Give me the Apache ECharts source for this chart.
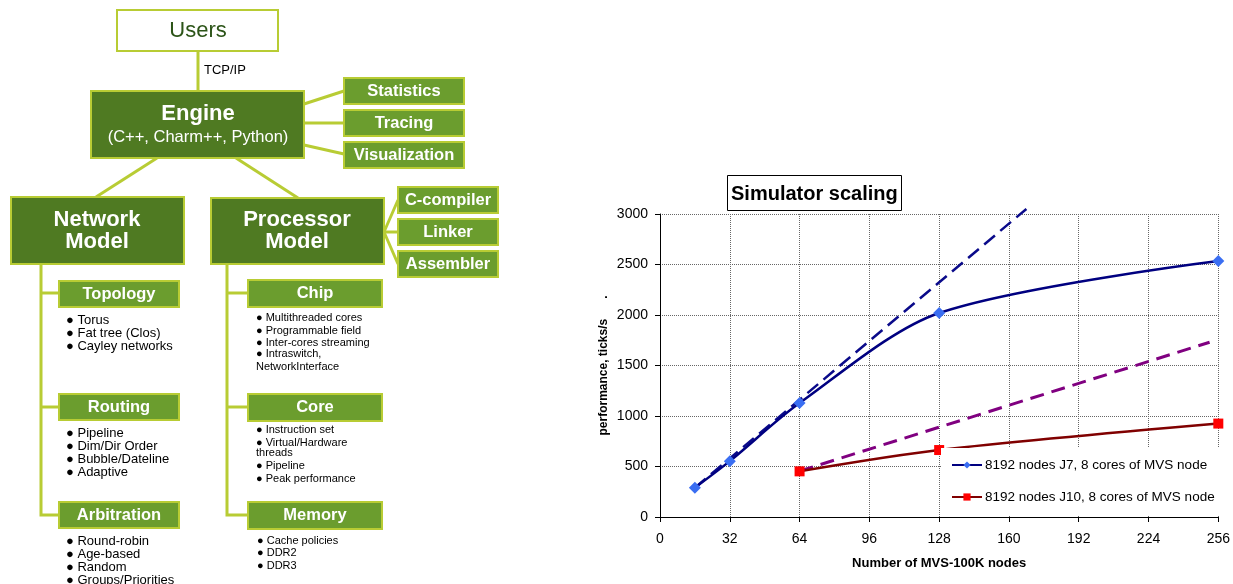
<!DOCTYPE html>
<html><head><meta charset="utf-8">
<script src="https://cdn.jsdelivr.net/npm/echarts@6/dist/echarts.min.js"></script>
<style>html,body{margin:0;padding:0;background:#fff}#c{width:1233px;height:584px}</style>
</head><body><div id="c"></div>
<script>
// ---------- chart data ----------
const chartTitle = 'Simulator scaling';
const xAxisName = 'Number of MVS-100K nodes';
const yAxisName = 'performance, ticks/s      .';
const j7Name = '8192 nodes J7, 8 cores of MVS node';
const j10Name = '8192 nodes J10, 8 cores of MVS node';
const j7Nodes = [16, 32, 64, 128, 256];
const j7Perf = [290, 553, 1128, 2020, 2535];
const j7IdealNodes = [16, 168];
const j7IdealPerf = [290, 3050];
const j10Nodes = [64, 128, 256];
const j10Perf = [452, 663, 925];
const j10IdealNodes = [64, 252];
const j10IdealPerf = [455, 1730];

// ---------- diagram texts ----------
const usersLabel = 'Users';
const linkLabel = 'TCP/IP';
const engineLines = ['Engine', '(C++, Charm++, Python)'];
const engineTools = ['Statistics', 'Tracing', 'Visualization'];
const networkLines = ['Network', 'Model'];
const processorLines = ['Processor', 'Model'];
const processorTools = ['C-compiler', 'Linker', 'Assembler'];
const networkParts = ['Topology', 'Routing', 'Arbitration'];
const processorParts = ['Chip', 'Core', 'Memory'];
const topologyItems = ['● Torus', '● Fat tree (Clos)', '● Cayley networks'];
const routingItems = ['● Pipeline', '● Dim/Dir Order', '● Bubble/Dateline', '● Adaptive'];
const arbitrationItems = ['● Round-robin', '● Age-based', '● Random', '● Groups/Priorities'];
const chipItems = ['● Multithreaded cores', '● Programmable field', '● Inter-cores streaming', '● Intraswitch,', 'NetworkInterface'];
const coreItems = ['● Instruction set', '● Virtual/Hardware', 'threads', '● Pipeline', '● Peak performance'];
const memoryItems = ['● Cache policies', '● DDR2', '● DDR3'];

const zip = (a, b) => a.map((v, i) => [v, b[i]]);

// ---------- diagram drawing ----------
const FF = 'Arial, "Liberation Sans", sans-serif';
const LINE = '#b8cc34';
const DARK = '#4f7a22';
const LIGHT = '#6b9d2e';
const G = [];
function rect(x, y, w, h, fill) {
  G.push({type: 'rect', z: 10, shape: {x, y, width: w, height: h},
    style: {fill, stroke: LINE, lineWidth: 2}});
}
function txt(x, y, s, font, fill, align) {
  const a = align || 'center';
  G.push({type: 'text', z: 11, x, y,
    style: {text: s, font, fill: fill || '#000', align: a, verticalAlign: 'middle',
      textAlign: a, textVerticalAlign: 'middle'}});
}
function seg(points) {
  G.push({type: 'polyline', z: 9, shape: {points},
    style: {stroke: LINE, lineWidth: 3, fill: null}});
}
// connectors
seg([[198, 52], [198, 91]]);
seg([[304, 104], [344, 91]]);
seg([[304, 123], [344, 123]]);
seg([[304, 145], [344, 154]]);
seg([[157, 158], [96, 197]]);
seg([[236, 158], [298, 198]]);
seg([[384, 232], [398, 200]]);
seg([[384, 232], [398, 232]]);
seg([[384, 232], [398, 264]]);
seg([[41, 264], [41, 515], [59, 515]]);
seg([[41, 293], [58, 293]]);
seg([[41, 407], [59, 407]]);
seg([[227, 264], [227, 515], [249, 515]]);
seg([[227, 293], [248, 293]]);
seg([[227, 407], [248, 407]]);

// boxes
rect(117, 10, 161, 41, '#fff');
txt(198, 31, usersLabel, '22px ' + FF, '#2c5418');
txt(204, 70, linkLabel, '13px ' + FF, '#000', 'left');
rect(91, 91, 213, 67, DARK);
txt(198, 114, engineLines[0], 'bold 22px ' + FF, '#fff');
txt(198, 137, engineLines[1], '16.5px ' + FF, '#fff');
const toolY = [78, 110, 142];
engineTools.forEach((t, i) => { rect(344, toolY[i], 120, 26, LIGHT); txt(404, toolY[i] + 13, t, 'bold 16.5px ' + FF, '#fff'); });
rect(11, 197, 173, 67, DARK);
txt(97, 219.5, networkLines[0], 'bold 22px ' + FF, '#fff');
txt(97, 241.5, networkLines[1], 'bold 22px ' + FF, '#fff');
rect(211, 198, 173, 66, DARK);
txt(297, 220, processorLines[0], 'bold 22px ' + FF, '#fff');
txt(297, 241.5, processorLines[1], 'bold 22px ' + FF, '#fff');
const ptY = [187, 219, 251];
processorTools.forEach((t, i) => { rect(398, ptY[i], 100, 26, LIGHT); txt(448, ptY[i] + 13, t, 'bold 16.5px ' + FF, '#fff'); });
const npY = [281, 394, 502];
networkParts.forEach((t, i) => { rect(59, npY[i], 120, 26, LIGHT); txt(119, npY[i] + 13, t, 'bold 16.5px ' + FF, '#fff'); });
const ppY = [280, 394, 502];
processorParts.forEach((t, i) => { rect(248, ppY[i], 134, 27, LIGHT); txt(315, ppY[i] + 13.5, t, 'bold 16.5px ' + FF, '#fff'); });

function list(items, x, ys, size) {
  items.forEach((s, i) => txt(x, ys[i], s, size + 'px ' + FF, '#000', 'left'));
}
list(topologyItems, 66, [320, 333, 346], 13);
list(routingItems, 66, [433, 446.5, 459.5, 472.5], 13);
list(arbitrationItems, 66, [541, 554, 567, 580], 13);
list(chipItems, 256, [318, 331, 342.5, 354, 367], 11);
list(coreItems, 256, [430, 442.5, 453, 466, 479], 11);
list(memoryItems, 257, [541, 553, 566], 11);

// ---------- chart ----------
const plain = v => String(v);
const chart = echarts.init(document.getElementById('c'), null, {renderer: 'canvas'});
chart.setOption({
  animation: false,
  backgroundColor: '#fff',
  textStyle: {fontFamily: FF},
  title: {
    text: chartTitle, left: 727, top: 175,
    padding: [9, 4, 7, 4], borderWidth: 1, borderColor: '#000', backgroundColor: '#fff',
    textStyle: {fontSize: 20, fontWeight: 'bold', color: '#000', fontFamily: FF}
  },
  grid: {left: 660, right: 12, top: 214, bottom: 67},
  legend: {
    orient: 'vertical', left: 941, top: 448,
    padding: [10, 8, 12, 10], itemGap: 18, itemWidth: 30, itemHeight: 9,
    backgroundColor: '#fff', z: 5,
    data: [j7Name, j10Name],
    textStyle: {fontSize: 13.5, color: '#000', fontFamily: FF, padding: [0, 0, 0, -2]}
  },
  xAxis: {
    type: 'value', min: 0, max: 256, interval: 32,
    name: xAxisName, nameLocation: 'middle', nameGap: 40,
    nameTextStyle: {fontSize: 13, fontWeight: 'bold', color: '#000', fontFamily: FF},
    axisLine: {lineStyle: {color: '#000', width: 1}},
    axisTick: {show: true, length: 5, lineStyle: {color: '#000'}},
    axisLabel: {fontSize: 14, color: '#000', margin: 15, fontFamily: FF, formatter: plain},
    splitLine: {show: true, lineStyle: {color: '#666', type: 'dotted', width: 1}}
  },
  yAxis: {
    type: 'value', min: 0, max: 3000, interval: 500,
    name: yAxisName, nameLocation: 'middle', nameRotate: 90, nameGap: 50,
    nameTextStyle: {fontSize: 12, fontWeight: 'bold', color: '#000', fontFamily: FF},
    axisLine: {show: true, lineStyle: {color: '#000', width: 1}},
    axisTick: {show: true, length: 5, lineStyle: {color: '#000'}},
    axisLabel: {fontSize: 14, color: '#000', margin: 12, fontFamily: FF, formatter: plain},
    splitLine: {show: true, lineStyle: {color: '#666', type: 'dotted', width: 1}}
  },
  series: [
    {name: j7Name + ' ideal', type: 'line', data: zip(j7IdealNodes, j7IdealPerf), clip: false,
      symbol: 'none', lineStyle: {color: '#0a0a8a', width: 2.5, type: [14, 7]}, z: 2},
    {name: j10Name + ' ideal', type: 'line', data: zip(j10IdealNodes, j10IdealPerf),
      symbol: 'none', lineStyle: {color: '#800080', width: 3, type: [14, 8]}, z: 2},
    {name: j7Name, type: 'line', data: zip(j7Nodes, j7Perf), smooth: 0.3,
      symbol: 'diamond', symbolSize: 12,
      itemStyle: {color: '#3a6ef2'}, lineStyle: {color: '#000080', width: 2.5}, z: 3},
    {name: j10Name, type: 'line', data: zip(j10Nodes, j10Perf), smooth: 0.3,
      symbol: 'rect', symbolSize: 10,
      itemStyle: {color: '#ff0000'}, lineStyle: {color: '#800000', width: 2.5}, z: 3}
  ],
  graphic: {elements: G}
});
</script></body></html>
